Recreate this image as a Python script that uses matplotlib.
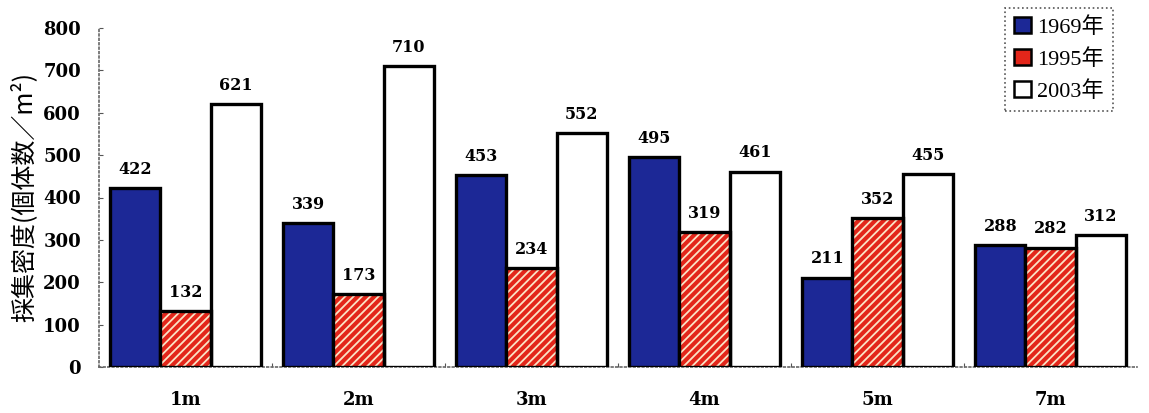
import matplotlib
matplotlib.use("Agg")
import matplotlib.pyplot as plt
import numpy as np
from matplotlib.patches import Patch

categories = ["1m", "2m", "3m", "4m", "5m", "7m"]
series_names = ["1969年", "1995年", "2003年"]
v1969 = [422, 339, 453, 495, 211, 288]
v1995 = [132, 173, 234, 319, 352, 282]
v2003 = [621, 710, 552, 461, 455, 312]
yticks = [0, 100, 200, 300, 400, 500, 600, 700, 800]

plt.rcParams['font.family'] = ['Noto Sans CJK JP', 'DejaVu Sans']
plt.rcParams['hatch.linewidth'] = 1.3

fig = plt.figure(figsize=(11.49, 4.13), dpi=100)
ax = fig.add_axes([99/1149, 46/413, (1137-99)/1149, (367-28)/413])

x = np.arange(len(categories))
w = 0.29
blue = '#1c2896'
red = '#e3261a'
stripe = '#fbe3c6'

ax.bar(x - w, v1969, w, color=blue, edgecolor='black', linewidth=2.4, zorder=3)
# hatched red: fill + light hatch, then black outline
ax.bar(x, v1995, w, color=red, edgecolor=stripe, hatch='////', linewidth=0, zorder=3)
ax.bar(x, v1995, w, fill=False, edgecolor='black', linewidth=2.4, zorder=4)
ax.bar(x + w, v2003, w, color='white', edgecolor='black', linewidth=2.4, zorder=3)

lab_font = dict(family=['DejaVu Serif'], fontweight='bold', fontsize=11.5)
for vals, off in ((v1969, -w), (v1995, 0), (v2003, w)):
    for xi, v in zip(x, vals):
        ax.text(xi + off, v + 24, str(v), ha='center', va='bottom', **lab_font)

ax.set_xlim(-0.5, 5.5)
ax.set_ylim(0, 800)
ax.set_yticks(yticks)
ax.set_yticklabels([str(t) for t in yticks], family=['DejaVu Serif'], fontweight='bold', fontsize=13)
ax.set_xticks(x)
ax.set_xticklabels(categories, family=['DejaVu Serif'], fontweight='bold', fontsize=13)
ax.set_xticks(np.arange(len(categories) - 1) + 0.5, minor=True)
ax.tick_params(axis='x', which='major', length=0, pad=17)
ax.tick_params(axis='x', which='minor', direction='in', length=3, width=0.8, color='#555555')
ax.tick_params(axis='y', direction='in', length=3, width=0.8, color='#555555', pad=13)

for s in ('top', 'right'):
    ax.spines[s].set_visible(False)
for s in ('left', 'bottom'):
    ax.spines[s].set_linestyle(':')
    ax.spines[s].set_color('#666666')
    ax.spines[s].set_linewidth(1.2)

ax.set_ylabel('採集密度(個体数／m²)', fontsize=18, labelpad=4)

handles = [Patch(facecolor=blue, edgecolor='black', linewidth=1.8),
           Patch(facecolor=red, edgecolor='black', linewidth=1.8),
           Patch(facecolor='white', edgecolor='black', linewidth=1.8)]
leg = ax.legend(handles, series_names, loc='upper right', bbox_to_anchor=(1113/1149, 405/413),
                bbox_transform=fig.transFigure,
                prop=dict(family=['Liberation Serif', 'Noto Sans CJK JP'], size=16),
                handlelength=0.75, handleheight=0.75,
                handletextpad=0.3, labelspacing=0.5, borderpad=0.4, fancybox=False,
                framealpha=1, edgecolor='#555555', borderaxespad=0)
leg.get_frame().set_linestyle(':')
leg.get_frame().set_linewidth(1.2)

fig.savefig('out.png', dpi=100)
